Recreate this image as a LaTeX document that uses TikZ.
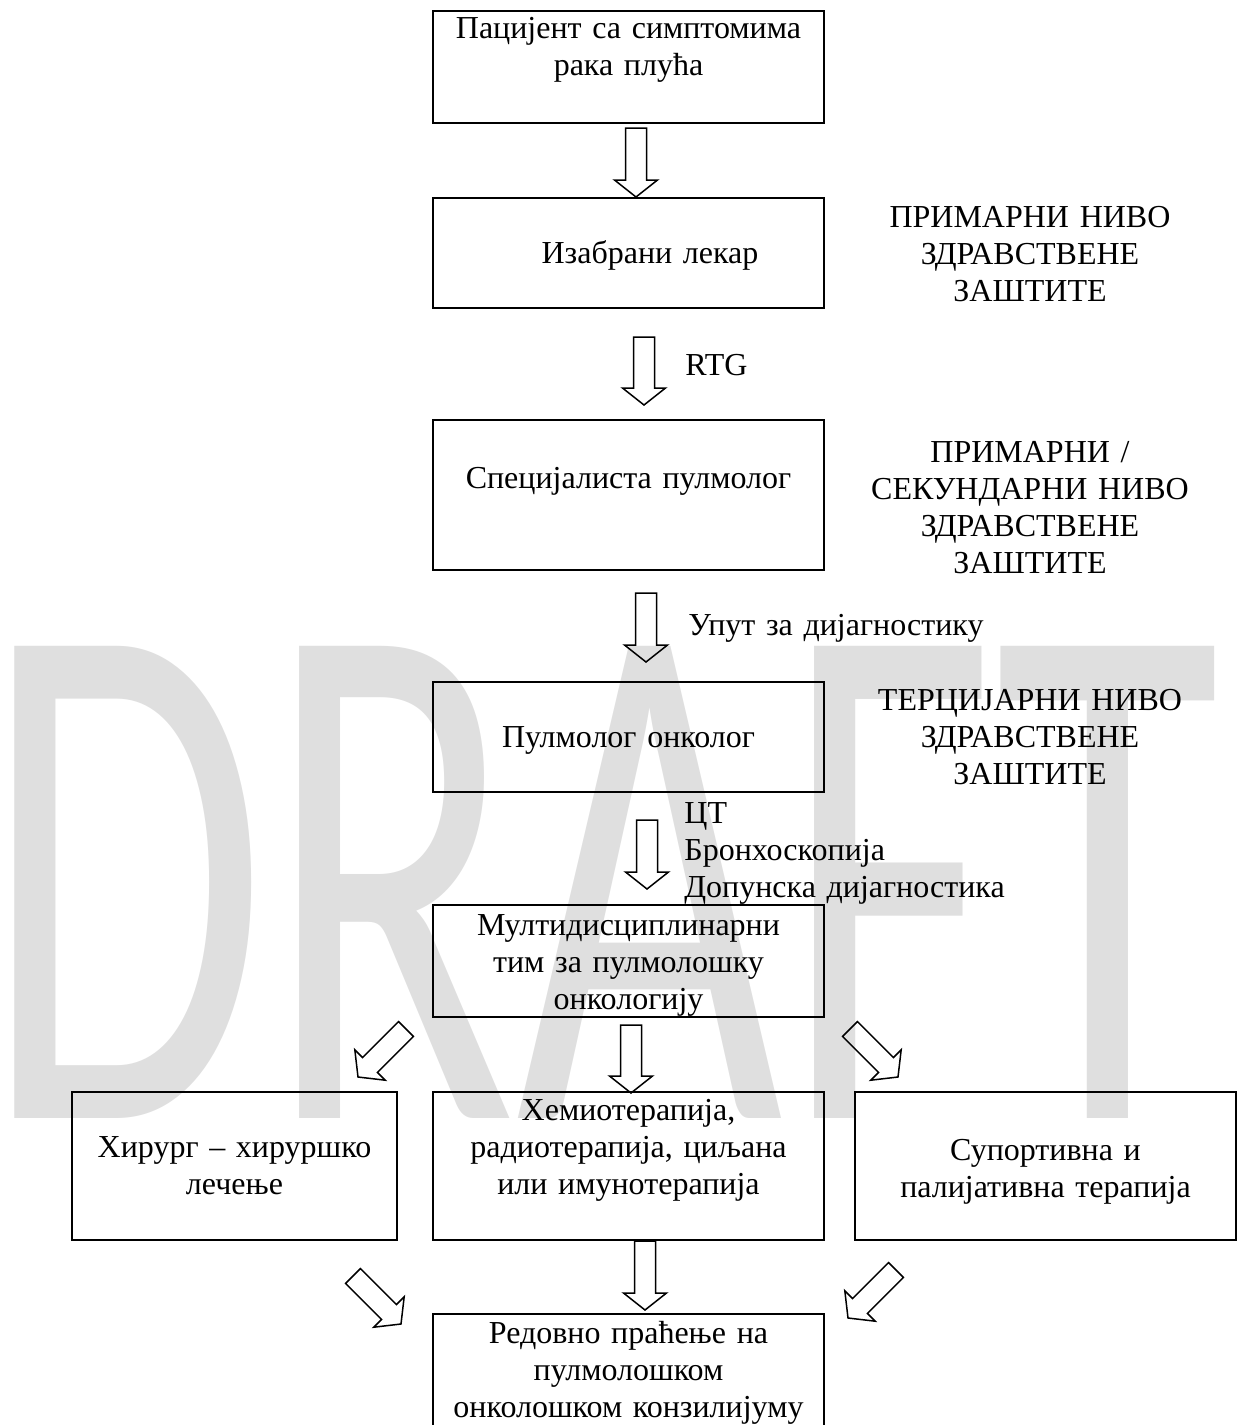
\documentclass[tikz,border=0pt]{standalone}
\usepackage{fontspec}
\setmainfont{Liberation Serif}
\newfontfamily\wmfont{Carlito}
\usepackage{tikz}
\usetikzlibrary{calc}
\definecolor{wmgray}{RGB}{223,223,223}

\begin{document}
\begin{tikzpicture}
	[x=0.5pt,y=-0.5pt,every node/.style={font=\fontsize{16}{18.5}\selectfont,inner sep=1pt},
	box/.style={draw,line width=1pt,text height=11pt,text width=185pt,align=center,minimum width=195.5pt,minimum height=55pt},
	lvl/.style={text width=170pt,align=center,anchor=base},
	note/.style={text width=170pt,align=left,anchor=base west,inner sep=0pt},
	wm/.style={font=\wmfont\fontsize{368}{368}\selectfont,text=wmgray,xscale=0.626,anchor=base west,inner sep=0pt},
	fat/.style={draw,line width=.75pt,line join=miter,to path={
		($(\tikztostart)!5.25pt!90:(\tikztotarget)$)
		-- ($(\tikztotarget)!8.5pt!(\tikztostart)!5.25pt!90:(\tikztotarget)$)
		-- ($(\tikztotarget)!8.5pt!(\tikztostart)!10.75pt!90:(\tikztotarget)$)
		-- (\tikztotarget)
		-- ($(\tikztotarget)!8.5pt!(\tikztostart)!10.75pt!-90:(\tikztotarget)$)
		-- ($(\tikztotarget)!8.5pt!(\tikztostart)!5.25pt!-90:(\tikztotarget)$)
		-- ($(\tikztostart)!5.25pt!-90:(\tikztotarget)$) -- cycle}}]
	\useasboundingbox (0,0) rectangle (1237,1425);
	
	% watermark
	\node[wm] (wm) at (12,1118) {\kern-23pt DRAFT};
	
	\node[box,minimum height=56pt,text depth=40pt] (b1) at (628.5,67) {Пацијент са симптомима\\рака плућа};
	\node[box,text depth=1pt] (b2) at (628.5,253) {\hspace*{21.5pt}Изабрани лекар};
	\node[box,minimum height=75pt,text depth=18pt] (b3) at (628.5,495) {Специјалиста пулмолог};
	\node[box,text depth=1pt] (b4) at (628.5,737) {Пулмолог онколог};
	\node[box,minimum height=56pt,text depth=37pt] (b5) at (628.5,961) {Мултидисциплинарни\\тим за пулмолошку\\онкологију};
	\node[box,minimum width=162.5pt,text width=150pt,minimum height=74pt,text depth=20pt] (b6) at (234.5,1166) {Хирург – хируршко\\лечење};
	\node[box,minimum height=74pt,text depth=57pt] (b7) at (628.5,1166) {Хемиотерапија,\\радиотерапија, циљана\\или имунотерапија};
	\node[box,minimum width=190.5pt,text width=180pt,minimum height=74pt,text depth=17pt] (b8) at (1045.5,1166) {Супортивна и\\палијативна терапија};
	\node[box,minimum height=62pt,text depth=44pt] (b9) at (628.5,1376) {Редовно праћење на\\пулмолошком\\онколошком конзилијуму};
	
	\node[lvl] (lv1) at (1030,227) {ПРИМАРНИ НИВО\\ЗДРАВСТВЕНЕ\\ЗАШТИТЕ};
	\node[lvl] (lv2) at (1030,462) {ПРИМАРНИ /\\СЕКУНДАРНИ НИВО\\ЗДРАВСТВЕНЕ\\ЗАШТИТЕ};
	\node[lvl] (lv3) at (1030,710) {ТЕРЦИЈАРНИ НИВО\\ЗДРАВСТВЕНЕ\\ЗАШТИТЕ};
	
	\node[note] (n1) at (685,375) {RTG};
	\node[note] (n2) at (688,635) {Упут за дијагностику};
	\node[note] (n3) at (684,823) {ЦТ\\Бронхоскопија\\Допунска дијагностика};
	
	% arrow ends
	\coordinate (t1) at (636,128);   \coordinate (h1) at (636,197);
	\coordinate (t2) at (644,337);   \coordinate (h2) at (644,405);
	\coordinate (t3) at (646,593);   \coordinate (h3) at (646,662);
	\coordinate (t4) at (647,820);   \coordinate (h4) at (647,889);
	\coordinate (t5) at (631,1025);  \coordinate (h5) at (631,1093);
	\coordinate (t6) at (406,1029);  \coordinate (h6) at (358,1077);
	\coordinate (t7) at (850,1029);  \coordinate (h7) at (898,1077);
	\coordinate (t8) at (353,1276);  \coordinate (h8) at (401,1324);
	\coordinate (t9) at (645,1241);  \coordinate (h9) at (645,1310);
	\coordinate (t10) at (896,1270); \coordinate (h10) at (848,1318);
	
	\draw[fat] (t1) to (h1);
	\draw[fat] (t2) to (h2);
	\draw[fat] (t3) to (h3);
	\draw[fat] (t4) to (h4);
	\draw[fat] (t5) to (h5);
	\draw[fat] (t6) to (h6);
	\draw[fat] (t7) to (h7);
	\draw[fat] (t8) to (h8);
	\draw[fat] (t9) to (h9);
	\draw[fat] (t10) to (h10);
\end{tikzpicture}
\end{document}
